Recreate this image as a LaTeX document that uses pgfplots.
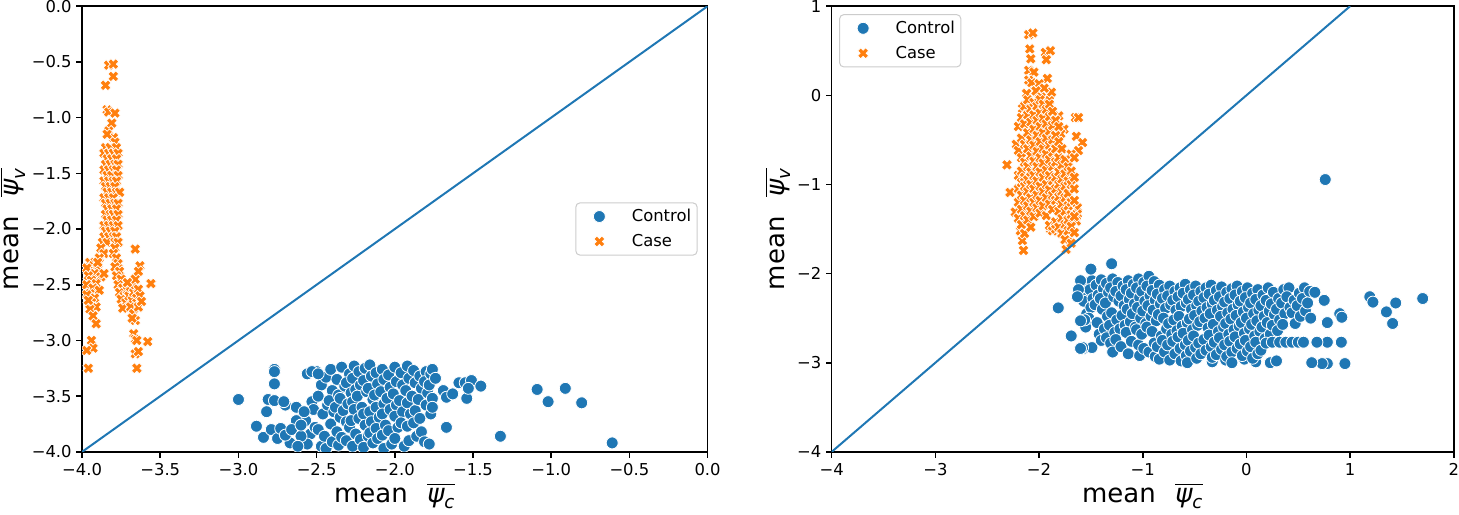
\documentclass[border=0pt]{standalone}
\usepackage{fontspec}
\setmainfont{DejaVu Sans}
\usepackage{amsmath}
\usepackage{pgfplots}
\pgfplotsset{compat=1.18}
\definecolor{c0}{RGB}{31,119,180}
\definecolor{c1}{RGB}{255,127,14}
\definecolor{lgd}{RGB}{204,204,204}

% filled "X" marker like matplotlib's 'X'
\pgfdeclareplotmark{Xf}{%
  \pgfpathmoveto{\pgfpoint{-0.438\pgfplotmarksize}{0.976\pgfplotmarksize}}%
  \pgfpathlineto{\pgfpoint{0pt}{0.537\pgfplotmarksize}}%
  \pgfpathlineto{\pgfpoint{0.438\pgfplotmarksize}{0.976\pgfplotmarksize}}%
  \pgfpathlineto{\pgfpoint{0.976\pgfplotmarksize}{0.438\pgfplotmarksize}}%
  \pgfpathlineto{\pgfpoint{0.537\pgfplotmarksize}{0pt}}%
  \pgfpathlineto{\pgfpoint{0.976\pgfplotmarksize}{-0.438\pgfplotmarksize}}%
  \pgfpathlineto{\pgfpoint{0.438\pgfplotmarksize}{-0.976\pgfplotmarksize}}%
  \pgfpathlineto{\pgfpoint{0pt}{-0.537\pgfplotmarksize}}%
  \pgfpathlineto{\pgfpoint{-0.438\pgfplotmarksize}{-0.976\pgfplotmarksize}}%
  \pgfpathlineto{\pgfpoint{-0.976\pgfplotmarksize}{-0.438\pgfplotmarksize}}%
  \pgfpathlineto{\pgfpoint{-0.537\pgfplotmarksize}{0pt}}%
  \pgfpathlineto{\pgfpoint{-0.976\pgfplotmarksize}{0.438\pgfplotmarksize}}%
  \pgfpathclose
  \pgfusepathqfillstroke}

\newcommand{\psibar}[1]{$\overline{\text{\itshape ψ}_{\text{\itshape #1}}}$}

\pgfplotsset{
  panel/.style={
    scale only axis, height=223pt,
    axis line style={line width=0.8pt},
    every tick/.style={black, line width=0.8pt},
    tick align=outside, major tick length=2.85pt,
    xtick pos=left, ytick pos=left,
    tick label style={font=\fontsize{8.2}{9.8}\selectfont, inner sep=0pt},
    xticklabel shift=2.9pt, yticklabel shift=2.2pt,
    label style={font=\fontsize{13}{15.6}\selectfont, inner sep=0pt},
    xlabel shift=3.5pt, ylabel shift=3pt,
    xlabel={mean\hspace{0.75em}\psibar{c}},
    ylabel={mean\hspace{0.75em}\psibar{v}},
    clip marker paths=true,
    legend cell align=left,
    legend style={draw=lgd, line width=0.5pt, rounded corners=2pt, fill=white,
      inner xsep=1pt, inner ysep=3pt, row sep=4.9pt,
      font=\fontsize{8.2}{9.8}\selectfont,
      nodes={inner xsep=2pt, inner ysep=0pt, text height=6.2pt, text depth=1.4pt}},
    legend image code/.code={\path (0pt,0pt) (24.5pt,0pt);
      \draw[##1] plot coordinates {(10.5pt,0pt)};},
  },
  ctrl/.style={only marks, mark=*, mark size=3pt,
    mark options={fill=c0, draw=white, line width=0.4pt}},
  case/.style={only marks, mark=Xf, mark size=2.8pt,
    mark options={fill=c1, draw=white, line width=0.35pt}},
}

\begin{document}
\begin{tikzpicture}
\begin{axis}[panel, width=313pt,
  xmin=-4, xmax=0, ymin=-4, ymax=0,
  xtick={-4,-3.5,-3,-2.5,-2,-1.5,-1,-0.5,0},
  xticklabels={−4.0,−3.5,−3.0,−2.5,−2.0,−1.5,−1.0,−0.5,0.0},
  ytick={-4,-3.5,-3,-2.5,-2,-1.5,-1,-0.5,0},
  yticklabels={−4.0,−3.5,−3.0,−2.5,−2.0,−1.5,−1.0,−0.5,0.0},
  legend style={at={(0.984,0.5)}, anchor=east},
]
\addplot[ctrl] coordinates {
(-2.56,-3.30) (-2.53,-3.55) (-2.57,-3.72) (-2.54,-3.84) (-2.56,-3.93)
(-2.50,-3.28) (-2.52,-3.62) (-2.51,-3.78)
(-2.47,-3.40) (-2.49,-3.50) (-2.46,-3.66) (-2.49,-3.80) (-2.47,-3.95)
(-2.44,-3.33) (-2.43,-3.58) (-2.45,-3.86) (-2.44,-3.97)
(-2.41,-3.26) (-2.40,-3.45) (-2.42,-3.54) (-2.39,-3.64) (-2.41,-3.75) (-2.40,-3.91)
(-2.37,-3.35) (-2.36,-3.49) (-2.38,-3.60) (-2.35,-3.69) (-2.37,-3.82) (-2.36,-3.94)
(-2.34,-3.24) (-2.32,-3.41) (-2.35,-3.52) (-2.33,-3.63) (-2.31,-3.73) (-2.34,-3.87)
(-2.29,-3.30) (-2.31,-3.38) (-2.28,-3.47) (-2.30,-3.57) (-2.29,-3.78) (-2.31,-3.90)
(-2.26,-3.23) (-2.27,-3.34) (-2.25,-3.44) (-2.27,-3.55) (-2.26,-3.62) (-2.28,-3.72) (-2.25,-3.84) (-2.27,-3.95)
(-2.23,-3.28) (-2.22,-3.40) (-2.24,-3.50) (-2.21,-3.60) (-2.23,-3.70) (-2.22,-3.89)
(-2.19,-3.25) (-2.20,-3.36) (-2.18,-3.46) (-2.20,-3.66) (-2.19,-3.76) (-2.17,-3.86) (-2.20,-3.96)
(-2.16,-3.22) (-2.15,-3.32) (-2.17,-3.43) (-2.14,-3.53) (-2.16,-3.64) (-2.15,-3.73) (-2.16,-3.83) (-2.14,-3.92)
(-2.12,-3.29) (-2.11,-3.39) (-2.13,-3.49) (-2.12,-3.60) (-2.10,-3.69) (-2.12,-3.79) (-2.11,-3.88)
(-2.08,-3.26) (-2.07,-3.35) (-2.09,-3.46) (-2.07,-3.57) (-2.08,-3.66) (-2.06,-3.76) (-2.08,-3.85) (-2.07,-3.97)
(-2.04,-3.31) (-2.03,-3.42) (-2.05,-3.52) (-2.03,-3.62) (-2.04,-3.81) (-2.02,-3.93)
(-2.00,-3.24) (-1.99,-3.37) (-2.01,-3.48) (-1.99,-3.58) (-2.00,-3.68) (-1.98,-3.78) (-2.00,-3.88)
(-1.96,-3.29) (-1.95,-3.40) (-1.97,-3.54) (-1.95,-3.64) (-1.96,-3.74) (-1.94,-3.95)
(-1.92,-3.23) (-1.91,-3.34) (-1.93,-3.45) (-1.92,-3.56) (-1.90,-3.66) (-1.92,-3.77) (-1.91,-3.90)
(-1.88,-3.27) (-1.87,-3.38) (-1.89,-3.50) (-1.87,-3.63) (-1.88,-3.74) (-1.86,-3.86)
(-1.84,-3.32) (-1.83,-3.43) (-1.85,-3.53) (-1.84,-3.70) (-1.83,-3.82)
(-1.80,-3.28) (-1.81,-3.37) (-1.79,-3.47) (-1.80,-3.58) (-1.81,-3.91)
(-1.77,-3.30) (-1.78,-3.40) (-1.76,-3.52) (-1.77,-3.66)
(-3.00,-3.53) (-2.885,-3.77) (-2.84,-3.87) (-2.82,-3.64) (-2.81,-3.53) (-2.77,-3.26)
(-2.77,-3.28) (-2.77,-3.39) (-2.77,-3.54) (-2.79,-3.80) (-2.75,-3.88) (-2.73,-3.79)
(-2.70,-3.58) (-2.71,-3.55) (-2.63,-3.60) (-2.67,-3.92) (-2.70,-3.85) (-2.63,-3.72)
(-2.66,-3.80) (-2.60,-3.86) (-2.62,-3.95) (-2.58,-3.64) (-2.60,-3.76) (-2.53,-3.28) (-2.49,-3.30)
(-1.76,-3.26) (-1.74,-3.34) (-1.69,-3.45) (-1.67,-3.51) (-1.63,-3.48) (-1.59,-3.38)
(-1.55,-3.38) (-1.51,-3.36) (-1.54,-3.52) (-1.53,-3.43) (-1.45,-3.41) (-1.67,-3.78)
(-1.78,-3.93) (-1.76,-3.60) (-1.325,-3.86) (-1.09,-3.44) (-1.02,-3.55) (-0.91,-3.43)
(-0.805,-3.56) (-0.61,-3.92)
};
\addlegendentry{Control}
\addplot[case] coordinates {
(-3.83,-0.53) (-3.80,-0.52) (-3.80,-0.63) (-3.85,-0.71) (-3.84,-0.93) (-3.83,-0.95)
(-3.79,-0.96) (-3.81,-1.05) (-3.83,-1.12) (-3.80,-1.18) (-3.79,-1.22) (-3.84,-1.15)
(-3.85,-1.27) (-3.82,-1.27) (-3.78,-1.27)
(-3.86,-1.32) (-3.83,-1.32) (-3.80,-1.32) (-3.77,-1.32)
(-3.84,-1.37) (-3.81,-1.37) (-3.78,-1.37)
(-3.85,-1.42) (-3.82,-1.42) (-3.79,-1.42) (-3.77,-1.42)
(-3.86,-1.47) (-3.83,-1.47) (-3.80,-1.47) (-3.78,-1.47)
(-3.84,-1.52) (-3.81,-1.52) (-3.77,-1.52)
(-3.86,-1.57) (-3.83,-1.57) (-3.80,-1.57) (-3.78,-1.57)
(-3.85,-1.62) (-3.82,-1.62) (-3.79,-1.62)
(-3.84,-1.67) (-3.81,-1.67) (-3.78,-1.67) (-3.76,-1.67)
(-3.86,-1.72) (-3.83,-1.72) (-3.80,-1.72)
(-3.85,-1.77) (-3.82,-1.77) (-3.79,-1.77) (-3.77,-1.77)
(-3.84,-1.82) (-3.81,-1.82) (-3.78,-1.82)
(-3.85,-1.87) (-3.82,-1.87) (-3.80,-1.87) (-3.77,-1.87)
(-3.84,-1.92) (-3.81,-1.92) (-3.78,-1.92)
(-3.86,-1.97) (-3.83,-1.97) (-3.80,-1.97) (-3.77,-1.97)
(-3.85,-2.02) (-3.82,-2.02) (-3.79,-2.02)
(-3.86,-2.07) (-3.83,-2.07) (-3.80,-2.07) (-3.78,-2.07)
(-3.87,-2.12) (-3.84,-2.12) (-3.79,-2.12) (-3.77,-2.12)
(-3.88,-2.17) (-3.86,-2.22) (-3.89,-2.26) (-3.95,-2.30) (-3.93,-2.33) (-3.97,-2.35)
(-3.90,-2.36) (-3.92,-2.40) (-3.96,-2.42) (-3.88,-2.43) (-3.94,-2.46) (-3.91,-2.49)
(-3.97,-2.50) (-3.93,-2.53) (-3.89,-2.55) (-3.95,-2.58) (-3.92,-2.62) (-3.97,-2.59)
(-3.94,-2.66) (-3.91,-2.70) (-3.95,-2.72) (-3.93,-2.78) (-3.91,-2.85) (-3.96,-2.64)
(-3.90,-2.30) (-3.86,-2.40)
(-3.94,-3.00) (-3.93,-3.07) (-3.97,-3.09) (-3.96,-3.25)
(-3.79,-2.17) (-3.80,-2.22) (-3.78,-2.26) (-3.77,-2.31) (-3.79,-2.34) (-3.76,-2.38)
(-3.78,-2.42) (-3.75,-2.45) (-3.77,-2.50) (-3.74,-2.53) (-3.76,-2.57) (-3.73,-2.60)
(-3.75,-2.63) (-3.72,-2.66) (-3.74,-2.71) (-3.71,-2.55) (-3.70,-2.60) (-3.69,-2.52)
(-3.68,-2.64) (-3.67,-2.57) (-3.66,-2.50) (-3.65,-2.62) (-3.64,-2.54) (-3.69,-2.70)
(-3.66,-2.45) (-3.71,-2.48) (-3.67,-2.76) (-3.66,-2.82) (-3.64,-2.70) (-3.63,-2.60)
(-3.66,-2.18) (-3.63,-2.33) (-3.64,-2.38) (-3.56,-2.49) (-3.67,-2.94) (-3.66,-2.99)
(-3.58,-3.01) (-3.65,-3.00) (-3.66,-3.12) (-3.64,-3.10) (-3.65,-3.25) (-3.68,-2.80) (-3.62,-2.65)
};
\addlegendentry{Case}
\addplot[c0, line width=1pt, forget plot] coordinates {(-4,-4) (0,0)};
\end{axis}

\begin{axis}[panel, width=311.3pt, xshift=375.1pt,
  xmin=-4, xmax=2, ymin=-4, ymax=1,
  xtick={-4,-3,-2,-1,0,1,2},
  xticklabels={−4,−3,−2,−1,0,1,2},
  ytick={-4,-3,-2,-1,0,1},
  yticklabels={−4,−3,−2,−1,0,1},
  legend style={at={(0.012,0.982)}, anchor=north west},
]
\addplot[ctrl] coordinates {
(-1.56,-2.10) (-1.53,-2.22) (-1.57,-2.31) (-1.54,-2.45) (-1.55,-2.60) (-1.57,-2.84)
(-1.49,-2.08) (-1.51,-2.18) (-1.48,-2.28) (-1.50,-2.38) (-1.52,-2.50) (-1.49,-2.83)
(-1.45,-2.13) (-1.43,-2.24) (-1.46,-2.35) (-1.44,-2.55) (-1.42,-2.68)
(-1.40,-2.07) (-1.38,-2.17) (-1.41,-2.28) (-1.39,-2.40) (-1.37,-2.62) (-1.40,-2.75)
(-1.35,-2.11) (-1.33,-2.21) (-1.36,-2.33) (-1.34,-2.48) (-1.32,-2.58) (-1.35,-2.72)
(-1.29,-2.06) (-1.31,-2.16) (-1.28,-2.26) (-1.30,-2.44) (-1.27,-2.66) (-1.31,-2.78) (-1.29,-2.88)
(-1.24,-2.10) (-1.26,-2.20) (-1.23,-2.31) (-1.25,-2.52) (-1.22,-2.62) (-1.26,-2.74)
(-1.19,-2.14) (-1.21,-2.25) (-1.18,-2.36) (-1.20,-2.47) (-1.17,-2.58) (-1.21,-2.82)
(-1.14,-2.08) (-1.16,-2.18) (-1.13,-2.29) (-1.15,-2.40) (-1.12,-2.54) (-1.16,-2.66) (-1.14,-2.90)
(-1.09,-2.12) (-1.11,-2.22) (-1.08,-2.34) (-1.10,-2.45) (-1.07,-2.60) (-1.11,-2.76)
(-1.04,-2.06) (-1.06,-2.16) (-1.03,-2.27) (-1.05,-2.38) (-1.02,-2.50) (-1.06,-2.63) (-1.04,-2.80) (-1.03,-2.92)
(-0.99,-2.10) (-1.01,-2.20) (-0.98,-2.31) (-1.00,-2.42) (-0.97,-2.56) (-1.01,-2.68) (-0.99,-2.84)
(-0.94,-2.03) (-0.96,-2.14) (-0.93,-2.25) (-0.95,-2.36) (-0.92,-2.48) (-0.96,-2.60) (-0.94,-2.88)
(-0.89,-2.09) (-0.91,-2.19) (-0.88,-2.30) (-0.90,-2.41) (-0.87,-2.53) (-0.91,-2.65) (-0.89,-2.78) (-0.88,-2.93)
(-0.84,-2.13) (-0.86,-2.23) (-0.83,-2.34) (-0.85,-2.46) (-0.82,-2.70) (-0.86,-2.82) (-0.84,-2.96)
(-0.79,-2.18) (-0.81,-2.28) (-0.78,-2.39) (-0.80,-2.50) (-0.77,-2.62) (-0.81,-2.75) (-0.79,-2.88)
(-0.74,-2.14) (-0.76,-2.25) (-0.73,-2.35) (-0.75,-2.56) (-0.72,-2.68) (-0.76,-2.80) (-0.74,-2.97)
(-0.69,-2.20) (-0.71,-2.30) (-0.68,-2.41) (-0.70,-2.52) (-0.67,-2.64) (-0.71,-2.76) (-0.69,-2.90)
(-0.64,-2.16) (-0.66,-2.26) (-0.63,-2.37) (-0.65,-2.48) (-0.62,-2.59) (-0.66,-2.71) (-0.64,-2.84) (-0.63,-2.98)
(-0.59,-2.12) (-0.61,-2.22) (-0.58,-2.33) (-0.57,-2.55) (-0.61,-2.67) (-0.59,-2.80) (-0.58,-2.92)
(-0.54,-2.18) (-0.56,-2.29) (-0.53,-2.40) (-0.55,-2.51) (-0.52,-2.63) (-0.56,-2.75) (-0.54,-2.87) (-0.57,-3.00)
(-0.49,-2.14) (-0.51,-2.24) (-0.48,-2.36) (-0.50,-2.47) (-0.47,-2.58) (-0.51,-2.70) (-0.49,-2.83) (-0.48,-2.95)
(-0.44,-2.20) (-0.46,-2.31) (-0.43,-2.42) (-0.45,-2.54) (-0.46,-2.78) (-0.44,-2.90)
(-0.39,-2.16) (-0.41,-2.27) (-0.38,-2.38) (-0.40,-2.50) (-0.37,-2.61) (-0.41,-2.74) (-0.39,-2.86) (-0.33,-2.99)
(-0.34,-2.13) (-0.36,-2.23) (-0.33,-2.34) (-0.35,-2.45) (-0.32,-2.57) (-0.36,-2.69) (-0.34,-2.82) (-0.33,-2.94)
(-0.29,-2.19) (-0.31,-2.30) (-0.28,-2.41) (-0.27,-2.65) (-0.31,-2.77) (-0.29,-2.91)
(-0.24,-2.15) (-0.26,-2.26) (-0.23,-2.37) (-0.25,-2.48) (-0.22,-2.60) (-0.26,-2.72) (-0.24,-2.85) (-0.20,-2.97)
(-0.19,-2.21) (-0.21,-2.32) (-0.18,-2.44) (-0.20,-2.56) (-0.17,-2.68) (-0.21,-2.80) (-0.19,-2.93)
(-0.14,-2.17) (-0.16,-2.28) (-0.13,-2.40) (-0.15,-2.51) (-0.12,-2.63) (-0.16,-2.76) (-0.14,-2.88) (-0.14,-3.00)
(-0.09,-2.14) (-0.11,-2.24) (-0.08,-2.35) (-0.10,-2.47) (-0.07,-2.59) (-0.11,-2.71) (-0.09,-2.84) (-0.02,-2.96)
(-0.04,-2.20) (-0.06,-2.31) (-0.03,-2.43) (-0.05,-2.55) (-0.02,-2.67) (-0.06,-2.79) (-0.04,-2.92)
(0.01,-2.16) (-0.01,-2.27) (0.02,-2.38) (0.00,-2.50) (0.03,-2.62) (-0.01,-2.75) (0.01,-2.87) (0.09,-2.99)
(0.06,-2.22) (0.04,-2.33) (0.07,-2.45) (0.05,-2.57) (0.08,-2.70) (0.04,-2.82) (0.06,-2.95)
(0.11,-2.18) (0.09,-2.29) (0.12,-2.41) (0.10,-2.53) (0.13,-2.65) (0.09,-2.77) (0.11,-2.90) (0.23,-3.00)
(0.16,-2.24) (0.14,-2.36) (0.17,-2.48) (0.15,-2.60) (0.18,-2.73) (0.14,-2.86) (0.29,-2.98)
(0.21,-2.16) (0.19,-2.30) (0.22,-2.42) (0.20,-2.55) (0.23,-2.68) (0.19,-2.78)
(0.26,-2.21) (0.24,-2.34) (0.27,-2.46) (0.25,-2.58) (0.25,-2.77)
(0.31,-2.28) (0.29,-2.40) (0.32,-2.52) (0.30,-2.64) (0.32,-2.77)
(0.36,-2.18) (0.34,-2.33) (0.37,-2.45) (0.35,-2.57) (0.38,-2.77)
(0.41,-2.16) (0.39,-2.26) (0.42,-2.38) (0.44,-2.77)
(0.46,-2.30) (0.44,-2.44) (0.47,-2.56) (0.50,-2.77)
(0.51,-2.22) (0.49,-2.36) (0.52,-2.48) (0.55,-2.77)
(0.56,-2.16) (0.54,-2.28) (0.57,-2.42)
(0.61,-2.20) (0.59,-2.33) (0.62,-2.50)
(0.66,-2.21) (0.75,-2.30) (0.90,-2.45) (0.92,-2.49) (0.78,-2.55) (0.915,-2.77)
(0.78,-2.77) (0.68,-2.77) (0.95,-3.01) (0.78,-3.01) (0.73,-3.01) (0.63,-3.00)
(1.19,-2.26) (1.22,-2.32) (1.35,-2.43) (1.44,-2.33) (1.41,-2.56) (1.70,-2.28) (0.76,-0.945)
(-1.815,-2.385) (-1.69,-2.70) (-1.58,-2.83) (-1.60,-2.84) (-1.50,-1.95) (-1.30,-1.89)
(-1.60,-2.08) (-1.62,-2.18) (-1.63,-2.26) (-1.56,-2.52) (-1.60,-2.53)
};
\addlegendentry{Control}
\addplot[case] coordinates {
(-2.10,0.68) (-2.06,0.70) (-2.09,0.52) (-2.08,0.41) (-1.94,0.48) (-1.89,0.50)
(-1.93,0.40) (-2.10,0.28) (-2.05,0.26) (-2.10,0.17) (-2.07,0.14) (-1.92,0.19)
(-2.00,0.13) (-1.88,0.035) (-2.06,0.035) (-1.95,0.08) (-2.03,0.05) (-1.98,-0.02) (-2.12,0.02)
(-2.16,-0.15) (-2.10,-0.08) (-1.90,-0.06) (-1.81,-0.23) (-1.65,-0.25) (-1.62,-0.25)
(-1.76,-0.38) (-1.79,-0.43) (-1.64,-0.46) (-1.58,-0.53) (-1.62,-0.62) (-2.22,-0.55)
(-2.31,-0.78) (-2.28,-1.09) (-2.23,-1.31) (-2.18,-1.52) (-2.16,-1.63) (-2.15,-1.74)
(-1.89,-1.50) (-1.86,-1.50) (-1.71,-1.61) (-1.74,-1.73) (-1.63,-1.26) (-1.63,-1.33) (-1.64,-1.41)
(-2.20,-0.35) (-2.20,-0.62) (-2.20,-0.90) (-2.20,-1.05) (-2.20,-1.20) (-2.20,-1.38)
(-2.17,-0.25) (-2.17,-0.48) (-2.17,-0.70) (-2.17,-0.85) (-2.17,-0.98) (-2.17,-1.12) (-2.17,-1.28) (-2.17,-1.45)
(-2.14,-0.12) (-2.14,-0.32) (-2.14,-0.55) (-2.14,-0.75) (-2.14,-0.92) (-2.14,-1.02) (-2.14,-1.18) (-2.14,-1.35) (-2.14,-1.55)
(-2.11,-0.05) (-2.11,-0.22) (-2.11,-0.42) (-2.11,-0.60) (-2.11,-0.80) (-2.11,-0.95) (-2.11,-1.08) (-2.11,-1.24) (-2.11,-1.40)
(-2.08,-0.15) (-2.08,-0.30) (-2.08,-0.50) (-2.08,-0.68) (-2.08,-0.86) (-2.08,-1.00) (-2.08,-1.15) (-2.08,-1.30) (-2.08,-1.48)
(-2.05,-0.08) (-2.05,-0.22) (-2.05,-0.38) (-2.05,-0.56) (-2.05,-0.74) (-2.05,-0.90) (-2.05,-1.05) (-2.05,-1.20) (-2.05,-1.36)
(-2.02,-0.12) (-2.02,-0.28) (-2.02,-0.45) (-2.02,-0.63) (-2.02,-0.80) (-2.02,-0.96) (-2.02,-1.12) (-2.02,-1.26)
(-1.99,-0.05) (-1.99,-0.20) (-1.99,-0.35) (-1.99,-0.52) (-1.99,-0.70) (-1.99,-0.86) (-1.99,-1.02) (-1.99,-1.18) (-1.99,-1.32)
(-1.96,-0.10) (-1.96,-0.26) (-1.96,-0.42) (-1.96,-0.60) (-1.96,-0.76) (-1.96,-0.92) (-1.96,-1.08) (-1.96,-1.24)
(-1.93,-0.16) (-1.93,-0.32) (-1.93,-0.48) (-1.93,-0.66) (-1.93,-0.84) (-1.93,-1.00) (-1.93,-1.15) (-1.93,-1.35)
(-1.90,-0.10) (-1.90,-0.24) (-1.90,-0.40) (-1.90,-0.56) (-1.90,-0.72) (-1.90,-0.90) (-1.90,-1.06) (-1.90,-1.22) (-1.90,-1.46)
(-1.87,-0.18) (-1.87,-0.34) (-1.87,-0.50) (-1.87,-0.64) (-1.87,-0.80) (-1.87,-0.96) (-1.87,-1.12) (-1.87,-1.28) (-1.87,-1.52)
(-1.84,-0.28) (-1.84,-0.45) (-1.84,-0.60) (-1.84,-0.75) (-1.84,-0.92) (-1.84,-1.05) (-1.84,-1.18) (-1.84,-1.42) (-1.84,-1.50)
(-1.81,-0.35) (-1.81,-0.52) (-1.81,-0.70) (-1.81,-0.86) (-1.81,-1.00) (-1.81,-1.14) (-1.81,-1.30) (-1.81,-1.48)
(-1.78,-0.60) (-1.78,-0.78) (-1.78,-0.94) (-1.78,-1.08) (-1.78,-1.22) (-1.78,-1.38) (-1.78,-1.55)
(-1.75,-0.72) (-1.75,-0.88) (-1.75,-1.02) (-1.75,-1.15) (-1.75,-1.30) (-1.75,-1.45) (-1.75,-1.62)
(-1.72,-0.80) (-1.72,-0.96) (-1.72,-1.10) (-1.72,-1.24) (-1.72,-1.40) (-1.72,-1.52)
(-1.69,-0.66) (-1.69,-0.85) (-1.69,-1.00) (-1.69,-1.20) (-1.69,-1.34) (-1.69,-1.47) (-1.69,-1.66)
(-1.66,-0.70) (-1.66,-0.92) (-1.66,-1.05) (-1.66,-1.18) (-1.66,-1.36) (-1.66,-1.54)
};
\addlegendentry{Case}
\addplot[c0, line width=1pt, forget plot] coordinates {(-4,-4) (1,1)};
\end{axis}
% a little room below the axis labels so the subscripts are not clipped
\path (current bounding box.south) ++(0,-2.5pt) coordinate (pad);
\path (pad);
\end{tikzpicture}
\end{document}
